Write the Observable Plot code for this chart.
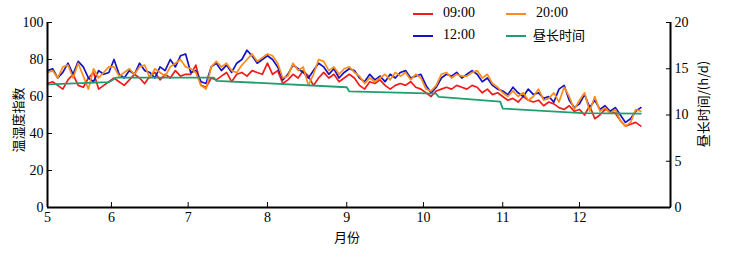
<!DOCTYPE html>
<html><head><meta charset="utf-8">
<script src="https://cdn.jsdelivr.net/npm/d3@7"></script>
<script src="https://cdn.jsdelivr.net/npm/@observablehq/plot@0.6"></script>
<style>body{margin:0;background:#fff}</style>
</head><body><div id="chart"></div>
<script>
// x is "days since 1 May"; month ticks at the 1st of each month (axis starts ~7 May)
const monthTickDays = [6, 31, 61, 92, 123, 153, 184, 214];
const monthLabels = ["5", "6", "7", "8", "9", "10", "11", "12"];
const leftTicks = [0, 20, 40, 60, 80, 100];
const rightTicksHours = [0, 5, 10, 15, 20];

// observation days (every 2nd day, 7 May – 26 Dec)
const obsDays = d3.range(6, 239, 2);

// temperature-humidity index at 09:00
const thi0900 = [
  67,68,66,64,69,72,66,65,70,73,64,66,68,
  70,68,66,69,72,70,67,71,73,69,72,70,74,71,72,
  72,77,66,65,70,69,71,73,68,72,73,71,74,73,72,
  78,72,74,67,69,72,70,74,71,66,70,73,70,72,68,70,
  72,70,66,64,68,67,69,66,64,66,67,66,68,65,64,
  62,60,63,64,65,64,66,65,64,66,65,62,64,61,62,
  60,58,59,57,60,58,57,58,55,57,56,54,53,55,52,
  53,50,55,48,50,53,52,51,47,44,45,46,44
];
// at 12:00
const thi1200 = [
  74,75,70,73,78,72,79,76,70,68,74,72,73,
  80,72,70,74,72,78,74,73,70,76,74,80,76,82,83,
  73,74,68,67,76,78,74,77,73,78,80,85,82,78,80,
  82,80,76,69,72,77,75,73,70,74,78,76,72,75,70,73,
  75,74,70,68,72,69,71,68,72,70,73,74,70,71,72,
  66,62,65,70,72,71,73,70,72,74,72,68,70,66,64,
  63,61,65,62,60,64,61,62,59,60,57,64,66,58,54,
  56,61,54,58,53,55,52,54,50,46,48,52,54
];
// at 20:00
const thi2000 = [
  73,74,70,76,77,70,78,71,64,75,70,73,76,
  76,71,73,75,72,76,77,70,75,73,71,76,78,80,76,
  75,73,66,64,76,79,76,78,74,73,77,80,83,79,81,
  83,82,78,70,71,78,74,76,66,72,80,79,74,76,72,75,
  76,73,71,67,70,68,70,72,69,73,71,73,69,72,70,
  64,63,66,72,73,70,72,71,71,73,74,70,72,67,65,
  62,60,63,60,62,58,60,64,58,59,62,57,65,60,53,
  58,62,52,60,52,54,51,53,47,44,46,53,52
];

// day length (h/d), read at its break points
const dayLenDays = [6, 30, 33, 71, 72, 123, 124, 158, 159, 183, 184, 215, 238];
const dayLenHours = [13.3, 13.55, 14.05, 14.05, 13.7, 13.0, 12.55, 12.3, 11.95, 11.45, 10.7, 10.2, 10.15];

const seriesNames = ["09:00", "12:00", "20:00", "昼长时间"];
const seriesColors = ["#f21b1b", "#1414c4", "#ff8c1a", "#1f9e6e"];

const rows = [];
[thi0900, thi1200, thi2000].forEach((arr, k) => {
  arr.forEach((v, i) => rows.push({day: obsDays[i], v, s: seriesNames[k]}));
});
const dayLen = dayLenDays.map((d, i) => ({day: d, v: dayLenHours[i] * 5}));

const serif = "Liberation Serif, Times New Roman, serif";
const cjk = "Noto Sans CJK SC, sans-serif";

const chart = Plot.plot({
  width: 729, height: 257,
  marginTop: 22, marginBottom: 50, marginLeft: 47, marginRight: 59,
  style: {fontFamily: serif, fontSize: "14px", color: "#000", background: "#fff"},
  x: {domain: [6, 249.6]},
  y: {domain: [0, 100]},
  marks: [
    Plot.line(rows.filter(d => d.s === "09:00"), {x: "day", y: "v", stroke: seriesColors[0], strokeWidth: 1.7}),
    Plot.line(rows.filter(d => d.s === "12:00"), {x: "day", y: "v", stroke: seriesColors[1], strokeWidth: 1.7}),
    Plot.line(rows.filter(d => d.s === "20:00"), {x: "day", y: "v", stroke: seriesColors[2], strokeWidth: 1.7}),
    Plot.line(dayLen, {x: "day", y: "v", stroke: seriesColors[3], strokeWidth: 1.8}),
    Plot.axisX({ticks: monthTickDays, tickFormat: (d) => monthLabels[monthTickDays.indexOf(d)], tickSize: -5, tickPadding: 10, label: null}),
    Plot.axisY({ticks: leftTicks, anchor: "left", tickSize: -5, tickPadding: 9, label: null}),
    Plot.axisY({ticks: rightTicksHours.map(h => h * 5), tickFormat: d => d / 5, anchor: "right", tickSize: -5, tickPadding: 9, label: null}),
    Plot.ruleY([0], {stroke: "#000", strokeWidth: 2}),
    Plot.ruleX([6, 249.6], {stroke: "#000", strokeWidth: 2})
  ]
});

const svg = d3.select(chart);
svg.selectAll("text").style("font-family", serif).style("font-size", "14px");

// axis titles
svg.append("text").attr("transform", "translate(19,120) rotate(-90)")
  .attr("text-anchor", "middle").attr("dominant-baseline", "middle")
  .style("font-family", cjk).style("font-size", "13px").attr("fill", "#000").text("温湿度指数");
svg.append("text").attr("transform", "translate(704,104) rotate(-90)")
  .attr("text-anchor", "middle").attr("dominant-baseline", "middle")
  .style("font-family", cjk).style("font-size", "13px").attr("fill", "#000").text("昼长时间/(h/d)");
svg.append("text").attr("x", 347).attr("y", 238)
  .attr("text-anchor", "middle").attr("dominant-baseline", "middle")
  .style("font-family", cjk).style("font-size", "13px").attr("fill", "#000").text("月份");

// legend
const legendPos = [[413, 14], [413, 36], [506, 14], [506, 36]];
seriesNames.forEach((name, i) => {
  const [lx, ly] = legendPos[i];
  svg.append("line").attr("x1", lx).attr("x2", lx + 20).attr("y1", ly).attr("y2", ly)
    .attr("stroke", seriesColors[i]).attr("stroke-width", 2);
  svg.append("text").attr("x", lx + (i === 3 ? 27 : 30)).attr("y", ly)
    .attr("text-anchor", "start").attr("dominant-baseline", "middle")
    .style("font-family", i === 3 ? cjk : serif).style("font-size", i === 3 ? "13px" : "14px")
    .attr("fill", "#000").text(name);
});

document.getElementById("chart").appendChild(chart);
</script>
</body></html>
